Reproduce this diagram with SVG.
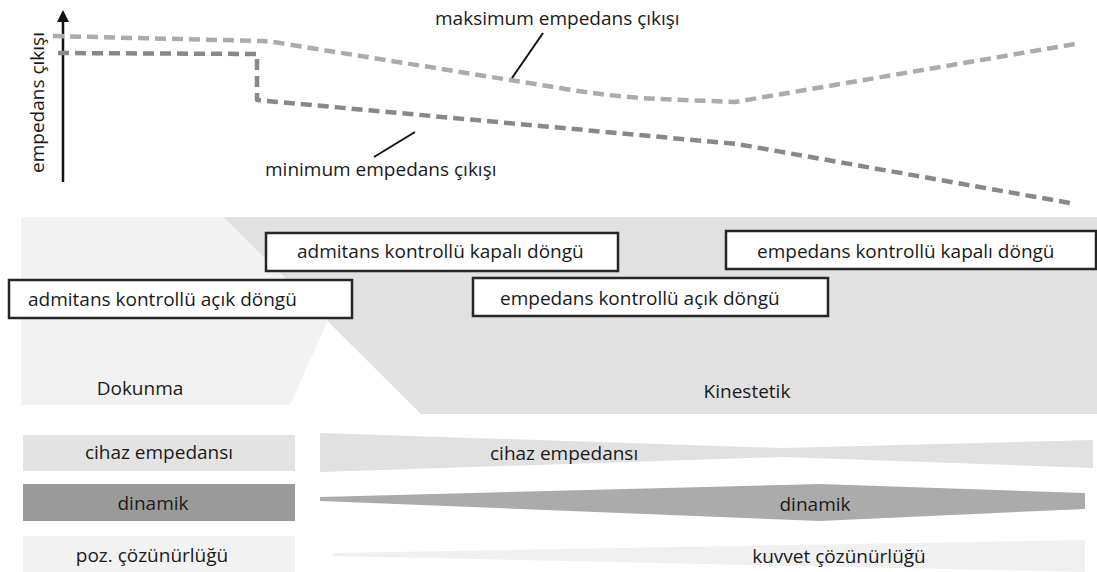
<svg xmlns="http://www.w3.org/2000/svg" width="1097" height="572" viewBox="0 0 1097 572">
  <style>
    text { font-family: "Open Sans", "Noto Sans", "DejaVu Sans", sans-serif; font-size: 19px; fill: #1a1a1a; }
    .box { fill: #ffffff; stroke: #262626; stroke-width: 2.5; }
    .dash { fill: none; stroke-width: 4.5; stroke-dasharray: 11 6; stroke-linejoin: round; }
    .lead { stroke: #111; stroke-width: 2; fill: none; }
    .mid { text-anchor: middle; }
  </style>

  <!-- impedance output chart -->
  <g id="chart">
    <line x1="63" y1="182" x2="63" y2="22" stroke="#111" stroke-width="2.5"/>
    <path d="M57,22 L63,10 L69,22 Z" fill="#111"/>
    <text transform="translate(44,102.5) rotate(-90)" class="mid">empedans çıkışı</text>
  </g>

  <g id="max-output">
    <path class="dash" stroke="#ababab" d="M53,36 L262,41 Q276,42 292,45 L560,88 Q612,97 660,99 L735,102 L1075,44"/>
    <line class="lead" x1="543" y1="33" x2="512" y2="78"/>
    <text x="435" y="25">maksimum empedans çıkışı</text>
  </g>

  <g id="min-output">
    <path class="dash" stroke="#888888" d="M58,53 L257,54 L257,100 L737,144 L1070,203"/>
    <line class="lead" x1="415" y1="132" x2="374" y2="157"/>
    <text x="265" y="176">minimum empedans çıkışı</text>
  </g>

  <!-- interaction regions -->
  <g id="region-kinestetik">
    <polygon points="223,217 1097,217 1097,414 421,414" fill="#e1e1e1"/>
    <text x="747" y="398" class="mid">Kinestetik</text>
  </g>
  <g id="region-dokunma">
    <polygon points="21,217 223,217 328,320 290,405 21,405" fill="#f2f2f2"/>
    <text x="140" y="395" class="mid">Dokunma</text>
  </g>

  <!-- control schemes -->
  <g id="admitans-kapali">
    <rect class="box" x="266" y="233" width="352" height="38"/>
    <text x="297" y="258">admitans kontrollü kapalı döngü</text>
  </g>
  <g id="empedans-kapali">
    <rect class="box" x="726" y="231" width="370" height="38"/>
    <text x="757" y="258">empedans kontrollü kapalı döngü</text>
  </g>
  <g id="admitans-acik">
    <rect class="box" x="9" y="280" width="343" height="38"/>
    <text x="28" y="306">admitans kontrollü açık döngü</text>
  </g>
  <g id="empedans-acik">
    <rect class="box" x="473" y="278" width="355" height="38"/>
    <text x="500" y="305">empedans kontrollü açık döngü</text>
  </g>

  <!-- property bars, haptic side -->
  <g id="cihaz-dokunma">
    <rect x="23" y="435" width="272" height="36" fill="#e3e3e3"/>
    <text x="159" y="459" class="mid">cihaz empedansı</text>
  </g>
  <g id="dinamik-dokunma">
    <rect x="23" y="484" width="272" height="37" fill="#9a9a9a"/>
    <text x="153" y="510" class="mid">dinamik</text>
  </g>
  <g id="poz-dokunma">
    <rect x="23" y="536" width="272" height="36" fill="#f2f2f2"/>
    <text x="152" y="562" class="mid">poz. çözünürlüğü</text>
  </g>

  <!-- property bars, kinesthetic side -->
  <g id="cihaz-kinestetik">
    <polygon points="320,433 783,448 1093,440 1093,468 783,457 320,472" fill="#e1e1e1"/>
    <text x="490" y="460">cihaz empedansı</text>
  </g>
  <g id="dinamik-kinestetik">
    <polygon points="320,497 820,484 1085,493 1085,509 820,521 320,501" fill="#ababab"/>
    <text x="815" y="511" class="mid">dinamik</text>
  </g>
  <g id="kuvvet-kinestetik">
    <polygon points="333,553 1085,540 1085,572 333,556" fill="#f0f0f0"/>
    <text x="839" y="563" class="mid">kuvvet çözünürlüğü</text>
  </g>
</svg>
